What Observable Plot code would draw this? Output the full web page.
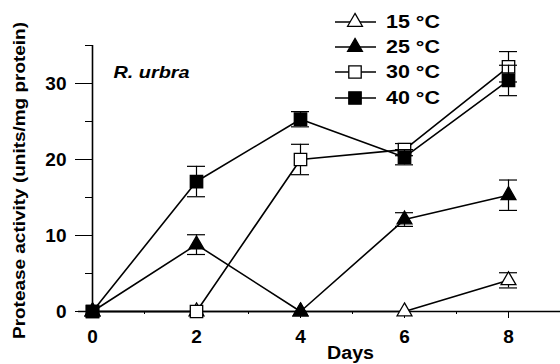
<!DOCTYPE html>
<html>
<head>
<meta charset="utf-8">
<script src="https://cdn.jsdelivr.net/npm/d3@7"></script>
<script src="https://cdn.jsdelivr.net/npm/@observablehq/plot@0.6"></script>
<style>
  html, body { margin: 0; padding: 0; background: #fff; }
  #chart { position: relative; width: 560px; height: 364px; }
  #chart svg { position: absolute; left: 0; top: 0; }
</style>
</head>
<body>
<div id="chart"></div>
<script>
// ---- data ----
const days = [0, 2, 4, 6, 8];
const seriesNames = ["15 °C", "25 °C", "30 °C", "40 °C"];
const act15 = [0, 0, 0, 0, 4.1];
const err15 = [0, 0, 0, 0, 1.0];
const act25 = [0, 8.8, 0, 12.1, 15.3];
const err25 = [0, 1.3, 0, 0.9, 2.0];
const act30 = [0, 0, 20.0, 21.3, 32.2];
const err30 = [0, 0, 2.0, 0.8, 2.0];
const act40 = [0, 17.1, 25.3, 20.3, 30.4];
const err40 = [0, 2.0, 1.0, 1.0, 2.0];
const yMajorTicks = [0, 10, 20, 30];
const yMinorTicks = [5, 15, 25, 35];
const xMajorTicks = [0, 2, 4, 6, 8];
const xMinorTicks = [1, 3, 5, 7, 9];
const xLabel = "Days";
const yLabel = "Protease activity (units/mg protein)";
const speciesLabel = "R. urbra";

// styles per series
const styles = [
  {symbol: "triangle", fill: "white", r: 5.5},
  {symbol: "triangle", fill: "black", r: 5.5},
  {symbol: "square", fill: "white", r: 7},
  {symbol: "square", fill: "black", r: 7}
];
const allVals = [act15, act25, act30, act40];
const allErr = [err15, err25, err30, err40];

const table = [];
seriesNames.forEach((s, k) => {
  days.forEach((d, i) => {
    table.push({series: s, k, day: d, value: allVals[k][i], err: allErr[k][i]});
  });
});
const errRows = table.filter(d => d.err > 0);

const FONT = "'Liberation Sans', Arial, Helvetica, sans-serif";

const marks = [];
// axes
marks.push(Plot.ruleX([0], {stroke: "black", strokeWidth: 1.6}));
marks.push(Plot.ruleY([0], {stroke: "black", strokeWidth: 1.6, insetLeft: -14}));
marks.push(Plot.axisY({ticks: yMajorTicks, tickSize: 17, tickPadding: 9, label: null,
  fontSize: 19, fontWeight: "bold", stroke: "black", strokeWidth: 1}));
marks.push(Plot.axisY({ticks: yMinorTicks, tickSize: 7, tickFormat: () => "", label: null, strokeWidth: 1}));
marks.push(Plot.axisX({ticks: xMajorTicks, tickSize: 7, tickPadding: 11, label: null,
  fontSize: 19, fontWeight: "bold", strokeWidth: 1}));
marks.push(Plot.axisX({ticks: xMinorTicks, tickSize: 3, tickFormat: () => "", label: null, strokeWidth: 1}));

// series (drawn in order so 40 °C is on top)
seriesNames.forEach((s, k) => {
  const rows = table.filter(d => d.k === k);
  const er = errRows.filter(d => d.k === k);
  marks.push(Plot.ruleX(er, {x: "day", y1: d => d.value - d.err, y2: d => d.value + d.err, stroke: "black", strokeWidth: 1.2}));
  marks.push(Plot.ruleY(er, {x1: "day", x2: "day", y: d => d.value + d.err, insetLeft: -9, insetRight: -9, stroke: "black", strokeWidth: 1.2}));
  marks.push(Plot.ruleY(er, {x1: "day", x2: "day", y: d => d.value - d.err, insetLeft: -9, insetRight: -9, stroke: "black", strokeWidth: 1.2}));
  marks.push(Plot.line(rows, {x: "day", y: "value", stroke: "black", strokeWidth: 1.6}));
  marks.push(Plot.dot(rows, {x: "day", y: "value", symbol: () => styles[k].symbol, r: styles[k].r,
    fill: styles[k].fill, stroke: "black", strokeWidth: 1.3}));
});

// labels
marks.push(Plot.text([xLabel], {frameAnchor: "bottom", dx: 24, dy: 47, fontSize: 18, fontWeight: "bold", fontFamily: FONT}));
marks.push(Plot.text([yLabel], {frameAnchor: "left", textAnchor: "middle", rotate: -90, dx: -73, dy: 2, fontSize: 16.5, fontWeight: "bold", fontFamily: FONT}));
marks.push(Plot.text([speciesLabel], {frameAnchor: "top-left", dx: 21, dy: 20, textAnchor: "start",
  fontSize: 17, fontWeight: "bold", fontStyle: "italic", fontFamily: FONT}));

const chart = Plot.plot({
  width: 560,
  height: 364,
  marginLeft: 92,
  marginRight: 0,
  marginTop: 45,
  marginBottom: 53,
  style: {fontFamily: FONT, color: "black", background: "white", overflow: "visible"},
  x: {domain: [0, 9]},
  y: {domain: [0, 35]},
  marks
});
document.getElementById("chart").appendChild(chart);

// stretch a few labels to the reference widths
const widths = new Map([[yLabel, 317], [speciesLabel, 76], [xLabel, 47]]);
d3.select(chart).selectAll("text").each(function () {
  const t = this.textContent;
  if (widths.has(t)) {
    d3.select(this).attr("textLength", widths.get(t)).attr("lengthAdjust", "spacingAndGlyphs");
  }
});

// legend overlay
const legendRowsY = [22, 47, 72, 98];
const lg = d3.select("#chart").append("svg")
  .attr("width", 560).attr("height", 364)
  .style("pointer-events", "none")
  .style("font-family", FONT);
seriesNames.forEach((s, k) => {
  const y = legendRowsY[k];
  lg.append("line").attr("x1", 335).attr("x2", 376).attr("y1", y).attr("y2", y)
    .attr("stroke", "black").attr("stroke-width", 1.6);
  const sym = styles[k].symbol === "triangle" ? d3.symbolTriangle : d3.symbolSquare;
  const r = styles[k].r;
  lg.append("path").attr("d", d3.symbol(sym, Math.PI * r * r)())
    .attr("transform", `translate(355,${y})`)
    .attr("fill", styles[k].fill).attr("stroke", "black").attr("stroke-width", 1.3);
  lg.append("text").attr("x", 386).attr("y", y).attr("dy", "0.36em")
    .attr("font-size", 18).attr("font-weight", "bold")
    .attr("textLength", 54).attr("lengthAdjust", "spacingAndGlyphs").text(s);
});
</script>
</body>
</html>
